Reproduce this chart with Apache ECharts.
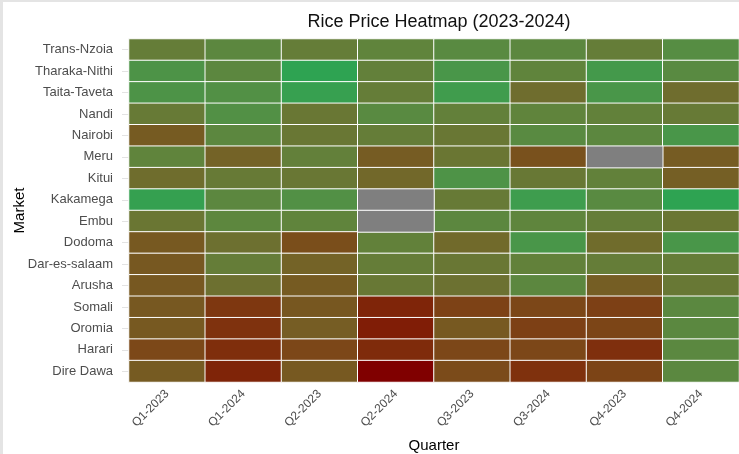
<!DOCTYPE html>
<html>
<head>
<meta charset="utf-8">
<script src="https://cdn.jsdelivr.net/npm/echarts@6/dist/echarts.min.js"></script>
<style>
  html, body { margin: 0; padding: 0; background: #e4e4e4; }
  #chart { position: absolute; left: 3px; top: 2px; width: 736px; height: 452px; background: #fff; }
</style>
</head>
<body>
<div id="chart"></div>
<script>
// quarters along x, markets top to bottom
const quarters = ['Q1-2023', 'Q1-2024', 'Q2-2023', 'Q2-2024', 'Q3-2023', 'Q3-2024', 'Q4-2023', 'Q4-2024'];
const markets = ['Trans-Nzoia', 'Tharaka-Nithi', 'Taita-Taveta', 'Nandi', 'Nairobi', 'Meru', 'Kitui',
  'Kakamega', 'Embu', 'Dodoma', 'Dar-es-salaam', 'Arusha', 'Somali', 'Oromia', 'Harari', 'Dire Dawa'];

// price per market, one value per quarter (null = no data)
const transNzoia   = [122, 111, 122, 115, 108, 111, 122, 105];
const tharakaNithi = [97, 111, 80, 119, 94, 115, 91, 108];
const taitaTaveta  = [97, 101, 84, 122, 88, 139, 94, 139];
const nandi        = [126, 101, 129, 108, 119, 115, 118, 126];
const nairobi      = [158, 111, 129, 122, 129, 108, 111, 94];
const meru         = [115, 150, 119, 157, 130, 168, null, 157];
const kitui        = [140, 125, 129, 145, 98, 128, 118, 154];
const kakamega     = [83, 111, 101, null, 126, 87, 108, 80];
const embu         = [130, 112, 115, null, 111, 114, 122, 130];
const dodoma       = [160, 136, 171, 118, 143, 94, 141, 94];
const darEsSalaam  = [161, 122, 150, 122, 129, 118, 122, 122];
const arusha       = [161, 136, 158, 128, 135, 111, 155, 128];
const somali       = [161, 192, 162, 205, 182, 178, 184, 110];
const oromia       = [160, 196, 156, 210, 160, 184, 180, 110];
const harari       = [177, 199, 178, 201, 178, 178, 198, 110];
const direDawa     = [158, 206, 160, 220, 174, 197, 181, 110];

const prices = [transNzoia, tharakaNithi, taitaTaveta, nandi, nairobi, meru, kitui, kakamega,
  embu, dodoma, darEsSalaam, arusha, somali, oromia, harari, direDawa];

// ggplot-like gradient, interpolated in Lab space
function toLin(c) { c /= 255; return c <= 0.04045 ? c / 12.92 : Math.pow((c + 0.055) / 1.055, 2.4); }
function fromLin(c) { c = c <= 0.0031308 ? 12.92 * c : 1.055 * Math.pow(c, 1 / 2.4) - 0.055; return Math.max(0, Math.min(255, Math.round(c * 255))); }
function rgbToLab(rgb) {
  let r = toLin(rgb[0]), g = toLin(rgb[1]), b = toLin(rgb[2]);
  let x = (0.4124 * r + 0.3576 * g + 0.1805 * b) / 0.95047;
  let y = 0.2126 * r + 0.7152 * g + 0.0722 * b;
  let z = (0.0193 * r + 0.1192 * g + 0.9505 * b) / 1.08883;
  let f = t => t > 0.008856 ? Math.cbrt(t) : 7.787 * t + 16 / 116;
  let fx = f(x), fy = f(y), fz = f(z);
  return [116 * fy - 16, 500 * (fx - fy), 200 * (fy - fz)];
}
function labToRgb(lab) {
  let fy = (lab[0] + 16) / 116, fx = fy + lab[1] / 500, fz = fy - lab[2] / 200;
  let fi = t => t > 0.206893 ? t * t * t : (t - 16 / 116) / 7.787;
  let x = fi(fx) * 0.95047, y = fi(fy), z = fi(fz) * 1.08883;
  let r = 3.2406 * x - 1.5372 * y - 0.4986 * z;
  let g = -0.9689 * x + 1.8758 * y + 0.0415 * z;
  let b = 0.0557 * x - 0.2040 * y + 1.0570 * z;
  return 'rgb(' + fromLin(r) + ',' + fromLin(g) + ',' + fromLin(b) + ')';
}
let lowLab = rgbToLab([46, 163, 82]);
let highLab = rgbToLab([128, 0, 0]);
let gradient = [];
for (let i = 0; i <= 20; i++) {
  let t = i / 20;
  gradient.push(labToRgb([0, 1, 2].map(k => lowLab[k] + (highLab[k] - lowLab[k]) * t)));
}

let cells = [], missing = [], all = [];
prices.forEach((row, m) => {
  row.forEach((v, q) => {
    if (v === null) missing.push([q, m, 0]);
    else { cells.push([q, m, v]); all.push(v); }
  });
});

let chart = echarts.init(document.getElementById('chart'));
chart.setOption({
  animation: false,
  title: {
    text: 'Rice Price Heatmap (2023-2024)',
    left: 431, top: 6, textAlign: 'center',
    textStyle: { fontFamily: 'Liberation Sans, Arial', fontSize: 18, fontWeight: 'normal', color: '#111' }
  },
  grid: { left: 126, top: 37, right: 0, bottom: 72, containLabel: false, outerBoundsMode: 'none' },
  xAxis: {
    type: 'category',
    data: quarters,
    name: 'Quarter', nameLocation: 'middle', nameGap: 56, nameMoveOverlap: false,
    nameTextStyle: { fontFamily: 'Liberation Sans, Arial', fontSize: 15, color: '#000' },
    axisLine: { show: false },
    axisTick: { show: false },
    splitLine: { show: false },
    axisLabel: { rotate: 45, margin: 10, fontFamily: 'Liberation Sans, Arial', fontSize: 12, color: '#4d4d4d' }
  },
  yAxis: {
    type: 'category',
    data: markets,
    inverse: true,
    name: 'Market', nameLocation: 'middle', nameGap: 102, nameRotate: 90, nameMoveOverlap: false,
    nameTextStyle: { fontFamily: 'Liberation Sans, Arial', fontSize: 15, color: '#000' },
    axisLine: { show: false },
    axisTick: { show: true, alignWithLabel: true, length: 7, lineStyle: { color: '#e3e3e3' } },
    splitLine: { show: false },
    axisLabel: { margin: 16, fontFamily: 'Liberation Sans, Arial', fontSize: 13, color: '#4d4d4d' }
  },
  visualMap: {
    show: false,
    seriesIndex: 0,
    dimension: 2,
    min: Math.min(...all),
    max: Math.max(...all),
    inRange: { color: gradient }
  },
  series: [
    {
      type: 'heatmap',
      data: cells,
      itemStyle: { borderColor: '#fff', borderWidth: 1 }
    },
    {
      type: 'heatmap',
      data: missing,
      itemStyle: { color: '#7f7f7f', borderColor: '#fff', borderWidth: 1 }
    }
  ]
});
</script>
</body>
</html>
